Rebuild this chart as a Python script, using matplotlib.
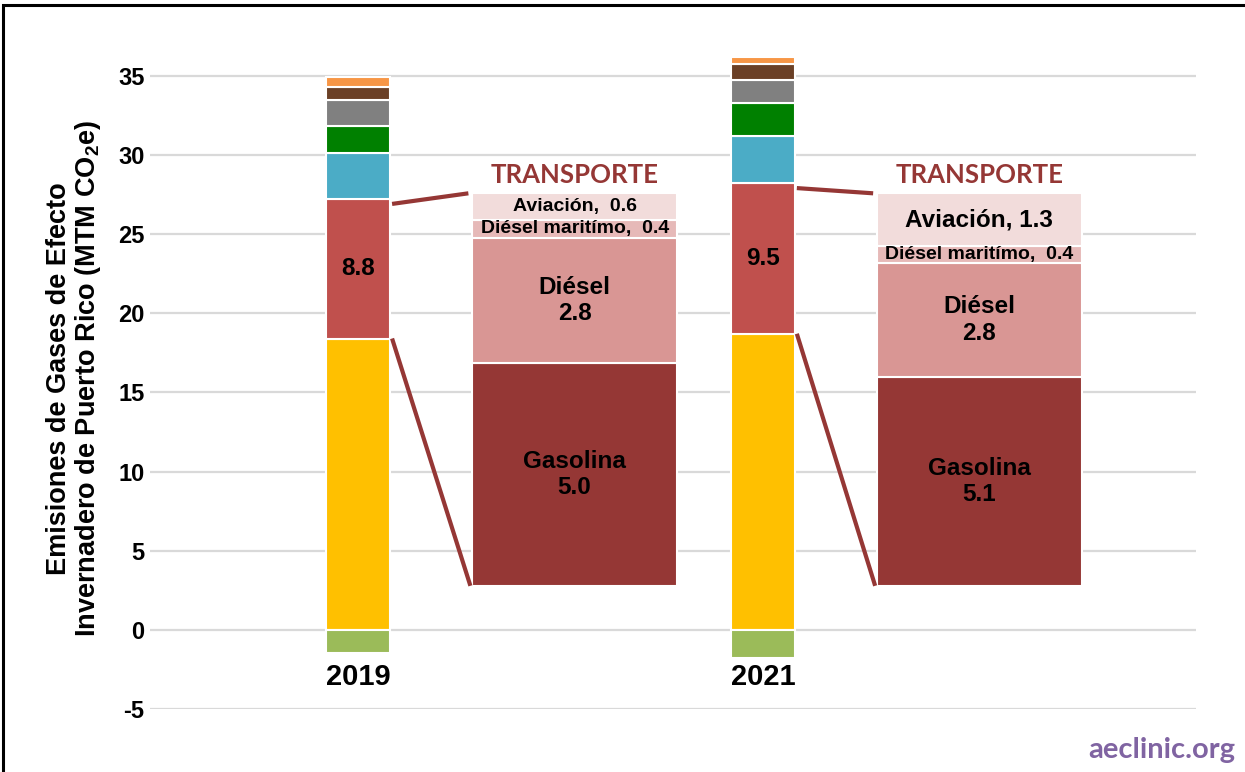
import matplotlib.pyplot as plt
from matplotlib.patches import Rectangle

plt.rcParams['font.family'] = ['Liberation Sans', 'DejaVu Sans']
plt.rcParams['mathtext.fontset'] = 'custom'
plt.rcParams['mathtext.rm'] = 'Liberation Sans:bold'
plt.rcParams['mathtext.bf'] = 'Liberation Sans:bold'
plt.rcParams['axes.unicode_minus'] = False

# stacked totals per year (MTM CO2e), bottom to top
years = ['2019', '2021']
electricidad = [18.4, 18.7]
transporte = [8.8, 9.5]
industria = [2.9, 3.0]
agricultura = [1.75, 2.1]
residuos = [1.6, 1.45]
comercial = [0.85, 1.0]
residencial = [0.6, 0.45]
sumideros = [-1.45, -1.8]

# transport breakdown, bottom to top
transp_labels = ['Gasolina', 'Diésel', 'Diésel maritímo', 'Aviación']
transp_2019 = [5.0, 2.8, 0.4, 0.6]
transp_2021 = [5.1, 2.8, 0.4, 1.3]

stack = [electricidad, transporte, industria, agricultura, residuos, comercial, residencial]
stack_colors = ['#FFC000', '#C0504D', '#4BACC6', '#008000', '#808080', '#6B4026', '#F79646']
transp_colors = ['#953735', '#D99694', '#E6B9B8', '#F2DCDB']
dark_red = '#953735'

fig = plt.figure(figsize=(12.45, 7.72), dpi=100)
ax = fig.add_axes([0.1205, 0.0816, 0.8401, 0.8614])

x = [0, 1]
bw = 0.158
for i in range(len(years)):
    b = 0
    for vals, c in zip(stack, stack_colors):
        ax.bar(x[i], vals[i], bw, bottom=b, color=c, edgecolor='white', linewidth=1.5, zorder=3)
        b += vals[i]
    ax.bar(x[i], sumideros[i], bw, color='#9BBB59', edgecolor='white', linewidth=1.5, zorder=3)
    red_mid = electricidad[i] + transporte[i] / 2
    ax.text(x[i], red_mid, f'{transporte[i]:.1f}', ha='center', va='center',
            fontsize=17.5, fontweight='bold', zorder=5)
    ax.text(x[i], -2.97, years[i], ha='center', va='center', fontsize=21, fontweight='bold')

# transport insets
ins_bot, ins_top = 2.78, 27.57
ins_off, ins_w = 0.535, 0.505
for i, tv in enumerate([transp_2019, transp_2021]):
    xc = x[i] + ins_off
    scale = (ins_top - ins_bot) / sum(tv)
    b = ins_bot
    for name, v, c in zip(transp_labels, tv, transp_colors):
        h = v * scale
        ax.bar(xc, h, ins_w, bottom=b, color=c, edgecolor='white', linewidth=1.5, zorder=3)
        if h > 2.5:
            lab, fs = (f'{name}\n{v:.1f}' if name != 'Aviación' else f'{name}, {v:.1f}'), 17.5
        else:
            lab, fs = f'{name},  {v:.1f}', 14
        ax.text(xc, b + h / 2, lab, ha='center', va='center', fontsize=fs,
                fontweight='bold', linespacing=1.2, zorder=5)
        b += h
    ax.text(xc, 28.75, 'TRANSPORTE', ha='center', va='center', fontsize=18.5,
            fontweight='bold', color=dark_red, family=['Lato', 'DejaVu Sans'])
    # connectors
    xr = x[i] + bw / 2 + 0.005
    xl = xc - ins_w / 2 - 0.01
    ax.plot([xr, xl], [electricidad[i] + transporte[i] - 0.3, ins_top], color=dark_red,
            lw=3, solid_capstyle='butt', zorder=4)
    ax.plot([xr, xl + 0.005], [electricidad[i], ins_bot], color=dark_red,
            lw=3, solid_capstyle='butt', zorder=4)

ax.set_xlim(-0.514, 2.07)
ax.set_ylim(-5, 37)
ax.set_yticks(range(-5, 36, 5))
ax.set_xticks([])
ax.tick_params(axis='y', length=0, pad=4, labelsize=17)
for t in ax.get_yticklabels():
    t.set_fontweight('bold')
ax.grid(axis='y', color='#D9D9D9', linewidth=1.6, zorder=0)
for s in ax.spines.values():
    s.set_visible(False)

fig.text(0.0595, 0.51, 'Emisiones de Gases de Efecto\nInvernadero de Puerto Rico (MTM CO$_{2}$e)',
         rotation=90, ha='center', va='center', fontsize=19.5, fontweight='bold', linespacing=1.05)
fig.text(0.933, 0.028, 'aeclinic.org', ha='center', va='center', fontsize=21,
         fontweight='bold', color='#8064A2', family=['Lato', 'DejaVu Sans'])

fig.patches.append(Rectangle((0.0028, -0.1), 1.2, 1.094, transform=fig.transFigure,
                             fill=False, edgecolor='black', linewidth=2.2))

fig.savefig('out.png', dpi=100)
